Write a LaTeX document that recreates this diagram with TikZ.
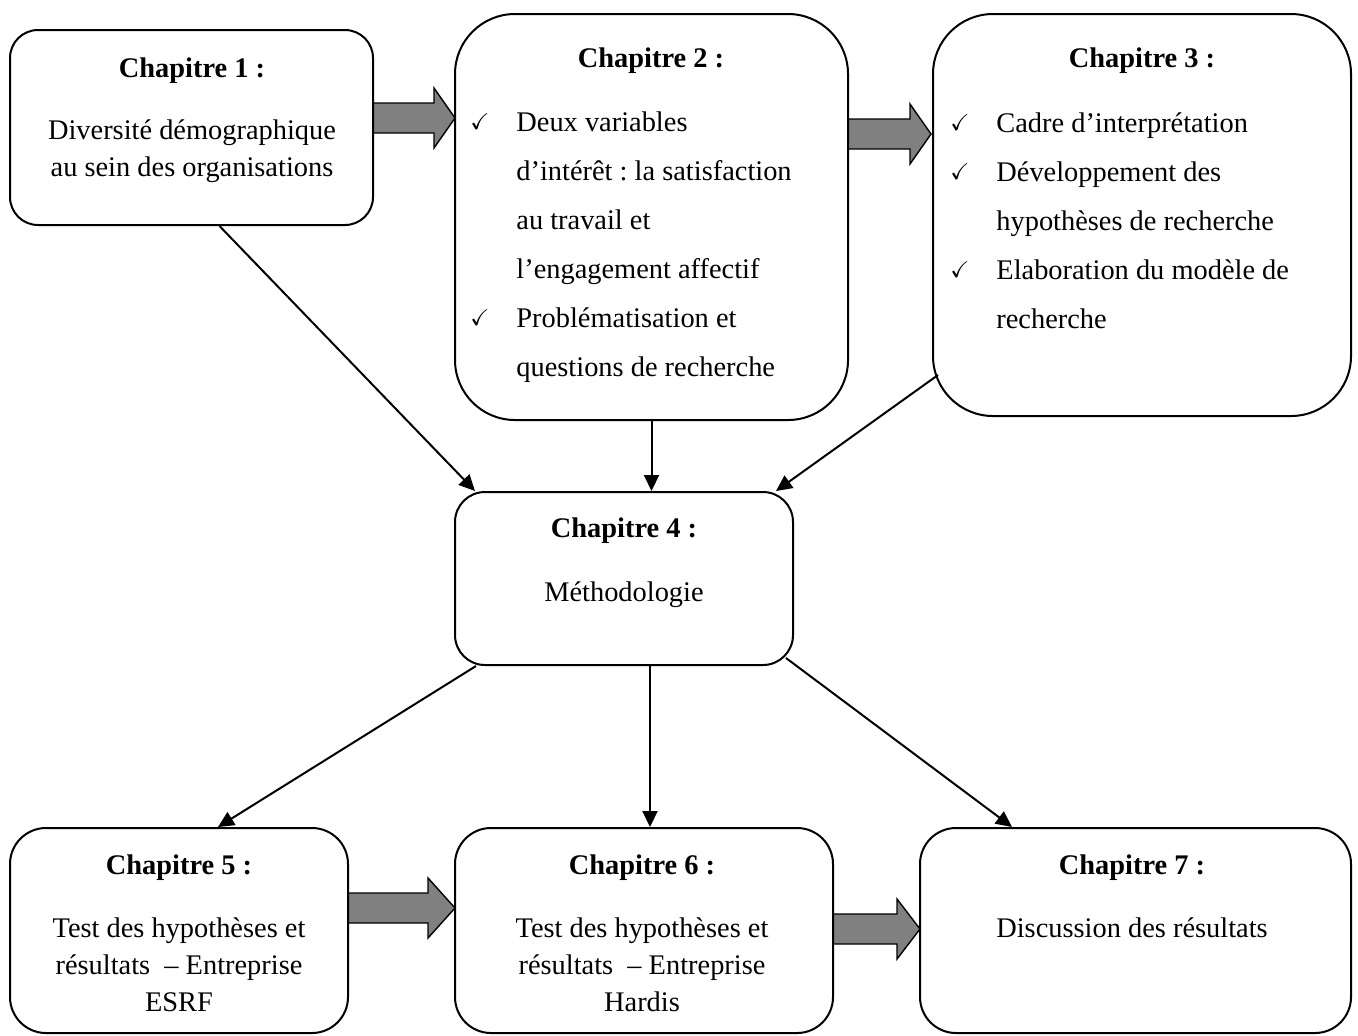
\documentclass[tikz,border=0pt]{standalone}
\usepackage{amssymb}
\usepackage{fontspec}
\setmainfont{Liberation Serif}
\usetikzlibrary{arrows.meta}
\definecolor{arrgrey}{HTML}{808080}
\frenchspacing

% fat grey arrow: tail x, head base x, tip x, middle y
\newcommand{\fatarrow}[4]{%
  \draw[bigarr] (#1,{#4-15}) -- (#2,{#4-15}) -- (#2,{#4-30}) -- (#3,#4)
    -- (#2,{#4+30}) -- (#2,{#4+15}) -- (#1,{#4+15}) -- cycle;}

\begin{document}
\begin{tikzpicture}[
  x=0.5pt, y=-0.5pt,
  box/.style={draw, line width=1pt, inner sep=0pt},
  txt/.style={inner sep=0pt, font=\fontsize{14.2}{18.5}\selectfont},
  ttl/.style={txt, font=\fontsize{14.2}{18.5}\selectfont\bfseries, anchor=base},
  chk/.style={inner sep=0pt, anchor=base west, font=\fontsize{11.5}{11.5}\selectfont},
  bigarr/.style={draw, fill=arrgrey, line width=0.7pt, line join=miter},
  link/.style={line width=1pt, -{Triangle[length=8pt,width=7.5pt]}}
]
\useasboundingbox (0,0) rectangle (1358,1035);

% Grey arrows
\fatarrow{373}{434}{455}{118}
\fatarrow{848}{910}{931}{134}
\fatarrow{348}{428}{455}{908}
\fatarrow{833}{897}{920}{929}

% Chapitre 1
\node[box, rounded corners=14pt, minimum width=181.5pt, minimum height=97.5pt] (c1) at (191.5,127.5) {};
\node[ttl] at (192,77) {Chapitre 1 :};
\node[txt, anchor=base] at (192,139) {Diversité démographique};
\node[txt, anchor=base] at (192,176) {au sein des organisations};

% Chapitre 2
\node[box, rounded corners=30pt, minimum width=196.5pt, minimum height=203pt] (c2) at (651.5,217) {};
\node[ttl] at (651,67) {Chapitre 2 :};
\foreach \ln [count=\i from 0] in {Deux variables, d’intérêt : la satisfaction, au travail et, l’engagement affectif, Problématisation et, questions de recherche}
  \node[txt, anchor=base west] (c2l\i) at (516,{131+49*\i}) {\ln};
\node[chk] at (470,129) {$\checkmark$};
\node[chk] at (470,325) {$\checkmark$};

% Chapitre 3
\node[box, rounded corners=30pt, minimum width=209pt, minimum height=201pt] (c3) at (1142,215) {};
\node[ttl] at (1142,67) {Chapitre 3 :};
\foreach \ln [count=\i from 0] in {Cadre d’interprétation, Développement des, hypothèses de recherche, Elaboration du modèle de, recherche}
  \node[txt, anchor=base west] (c3l\i) at (996,{132+49*\i}) {\ln};
\node[chk] at (950,130) {$\checkmark$};
\node[chk] at (950,179) {$\checkmark$};
\node[chk] at (950,277) {$\checkmark$};

% Chapitre 4
\node[box, rounded corners=15pt, minimum width=169pt, minimum height=86.5pt] (c4) at (624,578.5) {};
\node[ttl] at (624,537) {Chapitre 4 :};
\node[txt, anchor=base] at (624,601) {Méthodologie};

% Chapitre 5
\node[box, rounded corners=18pt, minimum width=169pt, minimum height=102.5pt] (c5) at (179,930.5) {};
\node[ttl] at (179,874) {Chapitre 5 :};
\node[txt, anchor=base] at (179,937) {Test des hypothèses et};
\node[txt, anchor=base] at (179,974) {résultats ~– Entreprise};
\node[txt, anchor=base] at (179,1011) {ESRF};

% Chapitre 6
\node[box, rounded corners=18pt, minimum width=189pt, minimum height=102.5pt] (c6) at (644,930.5) {};
\node[ttl] at (642,874) {Chapitre 6 :};
\node[txt, anchor=base] at (642,937) {Test des hypothèses et};
\node[txt, anchor=base] at (642,974) {résultats ~– Entreprise};
\node[txt, anchor=base] at (642,1011) {Hardis};

% Chapitre 7
\node[box, rounded corners=18pt, minimum width=215.5pt, minimum height=102.5pt] (c7) at (1135.5,930.5) {};
\node[ttl] at (1132,874) {Chapitre 7 :};
\node[txt, anchor=base] at (1132,937) {Discussion des résultats};

% Thin arrows
\draw[link] ([xshift=14pt]c1.south) -- ([xshift=10.5pt]c4.north west);
\draw[link] (c2.south) -- ([xshift=13.75pt]c4.north);
\draw[link] ([shift={(3pt,-80pt)}]c3.west) -- ([xshift=-9pt]c4.north east);
\draw[link] ([xshift=11pt]c4.south west) -- ([xshift=19.5pt]c5.north);
\draw[link] ([xshift=13pt]c4.south) -- ([xshift=3pt]c6.north);
\draw[link] ([shift={(-4pt,4pt)}]c4.south east) -- ([xshift=46.5pt]c7.north west);
\end{tikzpicture}
\end{document}
